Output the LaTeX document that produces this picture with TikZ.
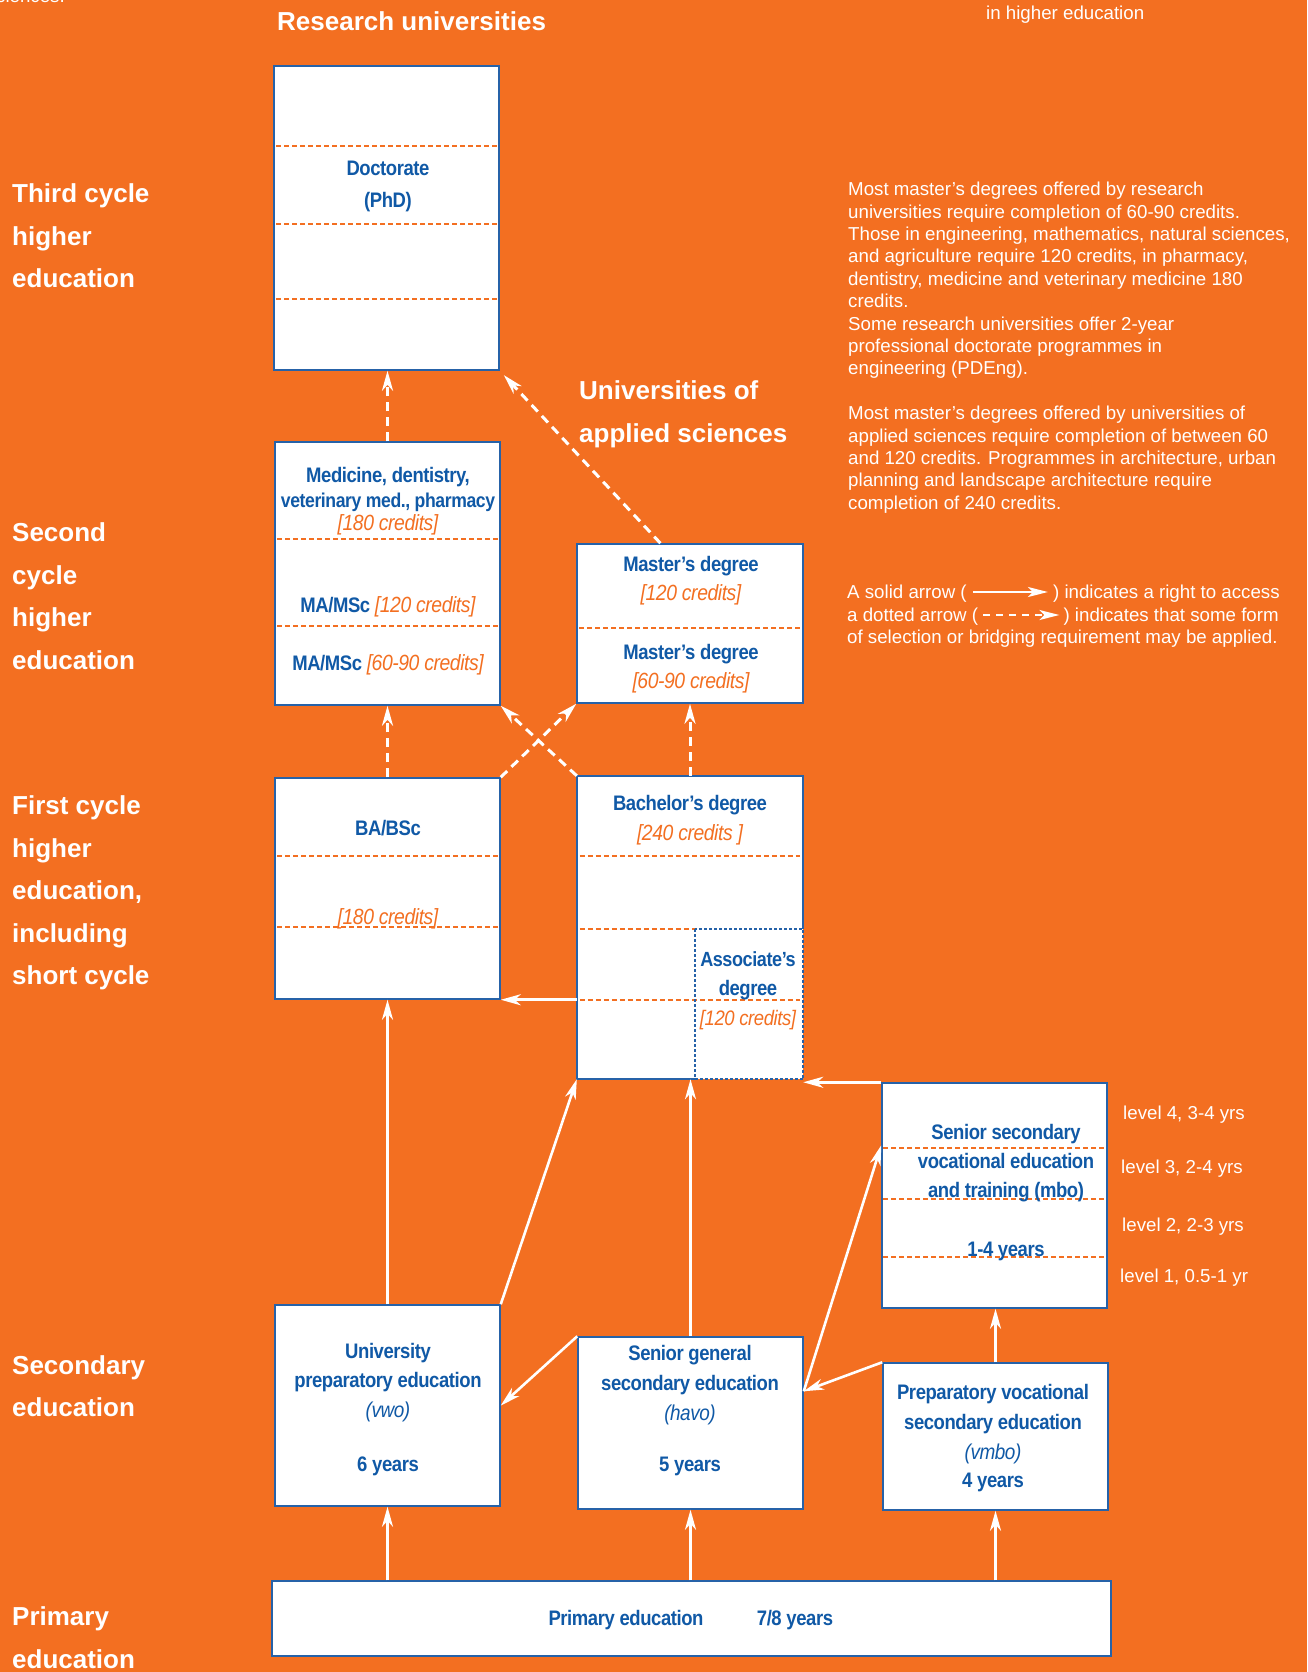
\documentclass[tikz,border=0pt]{standalone}
\usepackage{fontspec}
\setmainfont{Liberation Sans}
\newfontfamily\boxfont[FakeStretch=0.88,LetterSpace=-2]{Liberation Sans}
\usetikzlibrary{arrows.meta,calc}
\definecolor{bgor}{RGB}{243,111,33}
\definecolor{tblue}{RGB}{16,89,166}
\definecolor{bblue}{RGB}{38,98,168}
\tikzset{
  box/.style={draw=bblue, line width=1.5pt, fill=white, inner sep=0pt},
  bline/.style={draw=bblue, line width=1.5pt},
  adash/.style={draw=bblue, line width=1.5pt, dash pattern=on 3pt off 2pt},
  div/.style={draw=bgor, line width=1.2pt, dash pattern=on 5pt off 3pt},
  lab/.style={text=white, font=\fontsize{26}{30}\selectfont\bfseries, anchor=west, inner sep=0pt, text height=18.6pt, text depth=0pt},
  body/.style={text=white, font=\fontsize{18.7}{22}\selectfont, anchor=west, inner sep=0pt, text height=13.4pt, text depth=0pt},
  bt/.style={text=tblue, font=\boxfont\fontsize{21}{24}\selectfont\bfseries, inner sep=0pt, text height=15pt, text depth=0pt},
  bti/.style={bt, font=\boxfont\fontsize{21.5}{24}\selectfont\itshape},
  cr/.style={bti, text=bgor, font=\boxfont\fontsize{22}{24}\selectfont\itshape},
  arr/.style={draw=white, line width=2.6pt, -{Stealth[length=20pt,width=11pt,inset=6pt]}},
  darr/.style={arr, line width=3pt, dash pattern=on 9pt off 6pt},
  legarr/.style={draw=white, line width=2.2pt, -{Stealth[length=20pt,width=10pt,inset=5pt]}},
  legdarr/.style={legarr, dash pattern=on 7pt off 6pt},
}
\begin{document}
\begin{tikzpicture}[x=1pt,y=-1pt]
\useasboundingbox (0,0) rectangle (1307,1672);
\fill[bgor] (0,0) rectangle (1307,1672);

% ---------- top texts
\node[body, anchor=base east] (sci) at (65,3) {sciences.};
\node[body] (ihe) at (986,13) {in higher education};
\node[lab] (resu) at (277,21) {Research universities};
\node[lab] (uas1) at (579,390) {Universities of};
\node[lab] (uas2) at (579,433) {applied sciences};

% ---------- left labels
\node[lab] (l1) at (12,193) {Third cycle};
\node[lab] (l2) at (12,236) {higher};
\node[lab] (l3) at (12,278) {education};
\node[lab] (l4) at (12,532) {Second};
\node[lab] (l5) at (12,575) {cycle};
\node[lab] (l6) at (12,617) {higher};
\node[lab] (l7) at (12,660) {education};
\node[lab] (l8) at (12,805) {First cycle};
\node[lab] (l9) at (12,848) {higher};
\node[lab] (l10) at (12,890) {education,};
\node[lab] (l11) at (12,933) {including};
\node[lab] (l12) at (12,975) {short cycle};
\node[lab] (l13) at (12,1365) {Secondary};
\node[lab] (l14) at (12,1407) {education};
\node[lab] (l15) at (12,1616) {Primary};
\node[lab] (l16) at (12,1659) {education};

% ---------- right text block
\foreach \t [count=\i] in {{Most master’s degrees offered by research},
  {universities require completion of 60-90 credits.},
  {Those in engineering, mathematics, natural sciences,},
  {and agriculture require 120 credits, in pharmacy,},
  {dentistry, medicine and veterinary medicine 180},
  {credits.},
  {Some research universities offer 2-year},
  {professional doctorate programmes in},
  {engineering (PDEng).}}
  \node[body] (rt\i) at (848,{189+22.4*(\i-1)}) {\t};
\foreach \t [count=\i] in {{Most master’s degrees offered by universities of},
  {applied sciences require completion of between 60},
  {and 120 credits. Programmes in architecture, urban},
  {planning and landscape architecture require},
  {completion of 240 credits.}}
  \node[body] (ru\i) at (848,{413+22.4*(\i-1)}) {\t};

% ---------- legend
\node[body] (lg1a) at (847,592) {A solid arrow (};
\coordinate (lg1s) at ($(lg1a.east)+(6,0)$);
\coordinate (lg1e) at ($(lg1s)+(75,0)$);
\draw[legarr] (lg1s) -- (lg1e);
\node[body] (lg1b) at ($(lg1e)+(5,0)$) {) indicates a right to access};
\node[body] (lg2a) at (847,615) {a dotted arrow (};
\coordinate (lg2s) at ($(lg2a.east)+(5,0)$);
\coordinate (lg2e) at ($(lg2s)+(76,0)$);
\draw[legdarr] (lg2s) -- (lg2e);
\node[body] (lg2b) at ($(lg2e)+(4,0)$) {) indicates that some form};
\node[body] (lg3) at (847,637) {of selection or bridging requirement may be applied.};

% ---------- boxes
\node[box, minimum width=225, minimum height=304] (doc) at (386.5,218) {};
\node[box, minimum width=225, minimum height=263] (med) at (387.5,573.5) {};
\node[box, minimum width=226, minimum height=159] (mst) at (690,623.5) {};
\node[box, minimum width=225, minimum height=221] (ba) at (387.5,888.5) {};
\node[fill=white, inner sep=0pt, minimum width=226, minimum height=303] (bach) at (690,927.5) {};
\node[box, minimum width=225, minimum height=225] (mbo) at (994.5,1195.5) {};
\node[box, minimum width=225, minimum height=201] (vwo) at (387.5,1405.5) {};
\node[box, minimum width=225, minimum height=172] (havo) at (690.5,1423) {};
\node[box, minimum width=225, minimum height=147] (vmbo) at (995.5,1436.5) {};
\node[box, minimum width=839, minimum height=75] (prim) at (691.5,1618.5) {};

% dividers
\foreach \yy in {146,224,299} \draw[div] ([xshift=3pt]doc.west |- 0,\yy) -- ([xshift=-3pt]doc.east |- 0,\yy);
\foreach \yy in {539,626} \draw[div] ([xshift=3pt]med.west |- 0,\yy) -- ([xshift=-3pt]med.east |- 0,\yy);
\draw[div] ([xshift=3pt]mst.west |- 0,628) -- ([xshift=-3pt]mst.east |- 0,628);
\foreach \yy in {856,927} \draw[div] ([xshift=3pt]ba.west |- 0,\yy) -- ([xshift=-3pt]ba.east |- 0,\yy);
\foreach \yy in {1148,1199,1257} \draw[div] ([xshift=2pt]mbo.west |- 0,\yy) -- ([xshift=-2pt]mbo.east |- 0,\yy);
\coordinate (asnw) at (695,929);
\draw[div] ([xshift=3pt]bach.west |- 0,856) -- ([xshift=-3pt]bach.east |- 0,856);
\draw[div] ([xshift=3pt]bach.west |- 0,929) -- (asnw);
\draw[div] ([xshift=3pt]bach.west |- 0,1000) -- ([xshift=-3pt]bach.east |- 0,1000);
\draw[bline] (asnw |- bach.south) -- (bach.south west) -- (bach.north west) -- (bach.north east) -- (bach.east |- asnw);
\draw[adash] (asnw) rectangle (bach.south east);

% ---------- box texts
\node[bt] (t1) at (388,168) {Doctorate};
\node[bt] (t2) at (388,200) {(PhD)};
\node[bt] (t3) at (388,475) {Medicine, dentistry,};
\node[bt, font=\boxfont\fontsize{20}{24}\selectfont\bfseries] (t4) at (388,500) {veterinary med., pharmacy};
\node[cr] (t5) at (388,523) {[180 credits]};
\node[bt] (t6) at (388,605) {MA/MSc {\fontsize{22}{24}\selectfont\mdseries\itshape\color{bgor}[120 credits]}};
\node[bt] (t7) at (388,663) {MA/MSc {\fontsize{22}{24}\selectfont\mdseries\itshape\color{bgor}[60-90 credits]}};
\node[bt] (t8) at (691,564) {Master’s degree};
\node[cr] (t9) at (691,593) {[120 credits]};
\node[bt] (t10) at (691,652) {Master’s degree};
\node[cr] (t11) at (691,681) {[60-90 credits]};
\node[bt] (t12) at (388,828) {BA/BSc};
\node[cr] (t13) at (388,917) {[180 credits]};
\node[bt] (t14) at (690,803) {Bachelor’s degree};
\node[cr] (t15) at (690,833) {[240 credits ]};
\node[bt, font=\boxfont\fontsize{20.5}{24}\selectfont\bfseries] (t16) at (748,959) {Associate’s};
\node[bt] (t17) at (748,988) {degree};
\node[cr, font=\boxfont\fontsize{21}{24}\selectfont\itshape] (t18) at (748,1018) {[120 credits]};
\node[bt] (t19) at (1006,1132) {Senior secondary};
\node[bt] (t20) at (1006,1161) {vocational education};
\node[bt] (t21) at (1006,1190) {and training (mbo)};
\node[bt] (t22) at (1006,1249) {1-4 years};
\node[bt] (t23) at (388,1351) {University};
\node[bt] (t24) at (388,1380) {preparatory education};
\node[bti] (t25) at (388,1410) {(vwo)};
\node[bt] (t26) at (388,1464) {6 years};
\node[bt] (t27) at (690,1353) {Senior general};
\node[bt] (t28) at (690,1383) {secondary education};
\node[bti] (t29) at (690,1413) {(havo)};
\node[bt] (t30) at (690,1464) {5 years};
\node[bt] (t31) at (993,1392) {Preparatory vocational};
\node[bt] (t32) at (993,1422) {secondary education};
\node[bti] (t33) at (993,1452) {(vmbo)};
\node[bt] (t34) at (993,1480) {4 years};
\node[bt] (t35) at (626,1618) {Primary education};
\node[bt] (t36) at (795,1618) {7/8 years};

% level labels
\node[body] (lv4) at (1123,1113) {level 4, 3-4 yrs};
\node[body] (lv3) at (1121,1167) {level 3, 2-4 yrs};
\node[body] (lv2) at (1122,1225) {level 2, 2-3 yrs};
\node[body] (lv1) at (1120,1276) {level 1, 0.5-1 yr};

% ---------- arrows
\coordinate (m2) at ($(mst.north west)!0.37!(mst.north east)$);
\draw[darr] (med.north) -- (med.north |- doc.south);
\draw[darr, shorten >=6pt] (m2) -- (doc.south east);
\draw[darr] (ba.north) -- (ba.north |- med.south);
\draw[darr] (ba.north east) -- (mst.south west);
\draw[darr] (bach.north west) -- (med.south east);
\draw[darr] (bach.north) -- (bach.north |- mst.south);
\draw[arr] (bach.west |- ba.south) -- (ba.south east);
\draw[arr] (mbo.north west) -- (bach.east |- mbo.north west);
\draw[arr] (vwo.north) -- (vwo.north |- ba.south);
\draw[arr] (vwo.north east) -- (bach.south west);
\draw[arr] (havo.north) -- (havo.north |- bach.south);
\draw[arr] (havo.north west) -- (vwo.east);
\coordinate (hv) at ($(havo.north east)+(0,55)$);
\coordinate (mb1) at ($(mbo.north west)+(0,63)$);
\draw[arr] (hv) -- (mb1);
\draw[arr] (vmbo.north west) -- (hv);
\draw[arr] (vmbo.north) -- (vmbo.north |- mbo.south);
\draw[arr] (vwo.south |- prim.north) -- (vwo.south);
\draw[arr] (havo.south |- prim.north) -- (havo.south);
\draw[arr] (vmbo.south |- prim.north) -- (vmbo.south);
\end{tikzpicture}
\end{document}
